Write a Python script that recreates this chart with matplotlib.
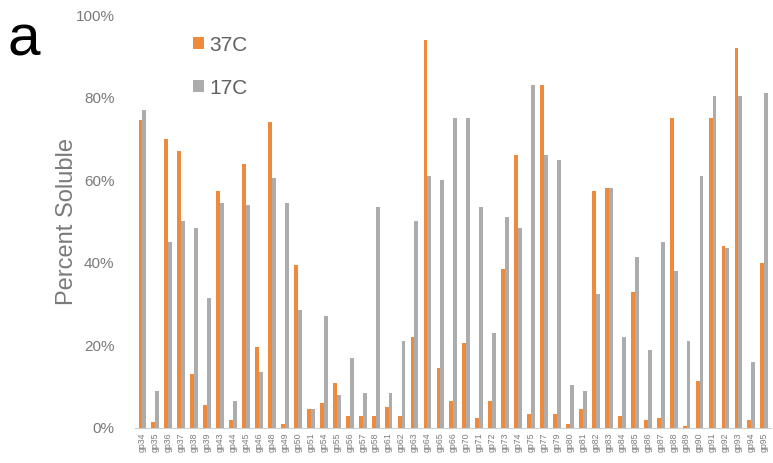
import matplotlib
matplotlib.use("Agg")
import matplotlib.pyplot as plt
import numpy as np

plt.rcParams['font.family'] = ['Liberation Sans', 'DejaVu Sans']

genes = ["gp34", "gp35", "gp36", "gp37", "gp38", "gp39", "gp43", "gp44", "gp45", "gp46",
         "gp48", "gp49", "gp50", "gp51", "gp54", "gp55", "gp56", "gp57", "gp58", "gp61",
         "gp62", "gp63", "gp64", "gp65", "gp66", "gp70", "gp71", "gp72", "gp73", "gp74",
         "gp75", "gp77", "gp79", "gp80", "gp81", "gp82", "gp83", "gp84", "gp85", "gp86",
         "gp87", "gp88", "gp89", "gp90", "gp91", "gp92", "gp93", "gp94", "gp95"]

sol_37C = [74.5, 1.5, 70, 67, 13, 5.5, 57.5, 2, 64, 19.5,
           74, 1, 39.5, 4.5, 6, 11, 3, 3, 3, 5,
           3, 22, 94, 14.5, 6.5, 20.5, 2.5, 6.5, 38.5, 66,
           3.5, 83, 3.5, 1, 4.5, 57.5, 58, 3, 33, 2,
           2.5, 75, 0.5, 11.5, 75, 44, 92, 2, 40]

sol_17C = [77, 9, 45, 50, 48.5, 31.5, 54.5, 6.5, 54, 13.5,
           60.5, 54.5, 28.5, 4.5, 27, 8, 17, 8.5, 53.5, 8.5,
           21, 50, 61, 60, 75, 75, 53.5, 23, 51, 48.5,
           83, 66, 65, 10.5, 9, 32.5, 58, 22, 41.5, 19,
           45, 38, 21, 61, 80.5, 43.5, 80.5, 16, 81]

yticks = [0, 20, 40, 60, 80, 100]
ytick_labels = ["0%", "20%", "40%", "60%", "80%", "100%"]

orange = "#ee8a3c"
gray = "#acacac"
textgray = "#7a7a7a"

fig = plt.figure(figsize=(7.73, 4.63), dpi=100)
ax = fig.add_axes([0.175, 0.0756, 0.823, 0.892])

x = np.arange(len(genes))
w = 0.3
ax.bar(x - w / 2, sol_37C, width=w, color=orange, label="37C")
ax.bar(x + w / 2, sol_17C, width=w, color=gray, label="17C")

ax.set_xlim(-0.55, len(genes) - 0.45)
ax.set_ylim(0, 100)
ax.set_yticks(yticks)
ax.set_yticklabels(ytick_labels, fontsize=11, color=textgray)
ax.set_xticks(x)
ax.set_xticklabels(genes, rotation=90, fontsize=6.3, color=textgray)
ax.tick_params(axis='both', length=0)
ax.tick_params(axis='y', pad=15)
ax.tick_params(axis='x', pad=3)

for s in ["top", "right", "left"]:
    ax.spines[s].set_visible(False)
ax.spines["bottom"].set_color("#d0d0d0")

ax.set_ylabel("Percent Soluble", fontsize=17, color=textgray)
ax.yaxis.set_label_coords(-0.09, 0.5)

leg = ax.legend(loc="upper left", bbox_to_anchor=(0.062, 0.995), frameon=False,
                fontsize=15, handlelength=0.5, handleheight=0.5,
                handletextpad=0.25, labelspacing=1.15)
for t in leg.get_texts():
    t.set_color("#606060")

fig.text(0.010, 0.88, "a", fontsize=42, color="black")

fig.savefig("out.png", dpi=100)
